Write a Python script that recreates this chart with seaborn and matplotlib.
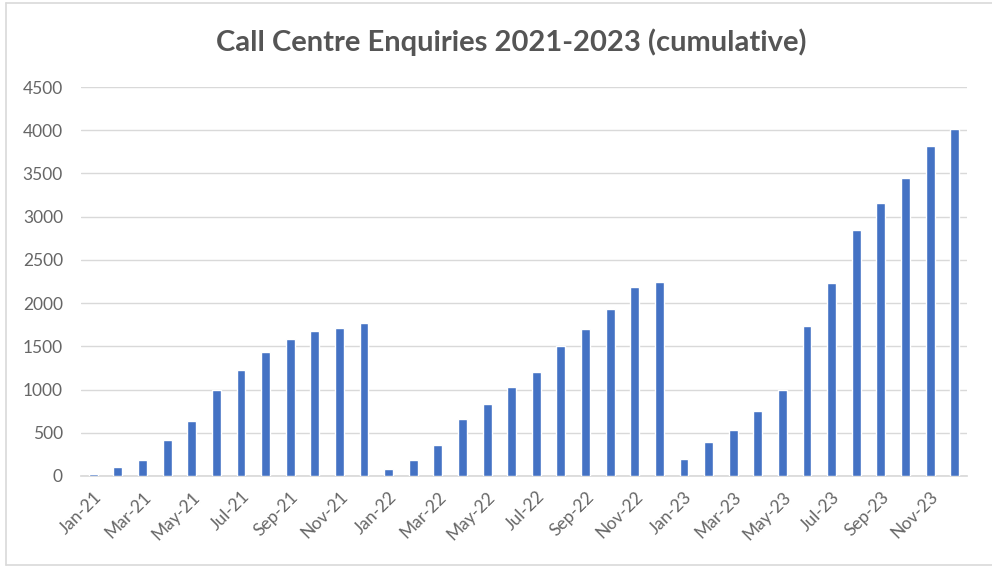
import matplotlib
matplotlib.use("Agg")
import matplotlib.pyplot as plt
import seaborn as sns
import pandas as pd
from matplotlib.lines import Line2D

months = ["Jan-21", "Feb-21", "Mar-21", "Apr-21", "May-21", "Jun-21",
          "Jul-21", "Aug-21", "Sep-21", "Oct-21", "Nov-21", "Dec-21",
          "Jan-22", "Feb-22", "Mar-22", "Apr-22", "May-22", "Jun-22",
          "Jul-22", "Aug-22", "Sep-22", "Oct-22", "Nov-22", "Dec-22",
          "Jan-23", "Feb-23", "Mar-23", "Apr-23", "May-23", "Jun-23",
          "Jul-23", "Aug-23", "Sep-23", "Oct-23", "Nov-23", "Dec-23"]
enquiries = [25, 100, 185, 415, 635, 990, 1225, 1440, 1580, 1680, 1715, 1770,
             85, 185, 360, 655, 830, 1025, 1200, 1500, 1695, 1930, 2190, 2250,
             200, 395, 530, 750, 990, 1740, 2230, 2840, 3155, 3450, 3820, 4010]
title = "Call Centre Enquiries 2021-2023 (cumulative)"

df = pd.DataFrame({"month": months, "enquiries": enquiries})

sns.set_theme(style="white")
plt.rcParams["font.family"] = ["Lato", "DejaVu Sans"]

W, H = 992, 567
fig = plt.figure(figsize=(W / 100, H / 100), dpi=100)
ax = fig.add_axes([81 / W, 1 - 476 / H, (967 - 81) / W, (476 - 87) / H])

sns.barplot(data=df, x="month", y="enquiries", color="#4472C4", width=0.36,
            saturation=1, ax=ax, zorder=3)

ax.set_xlim(-0.5, len(months) - 0.5)
ax.set_ylim(0, 4500)
ax.set_yticks(range(0, 4501, 500))
ax.grid(axis="y", color="#d9d9d9", linewidth=1, zorder=0)
ax.grid(axis="x", visible=False)

text_col = "#666666"
ax.tick_params(axis="y", length=0, labelsize=12.5, labelcolor=text_col, pad=13)
major = list(range(0, len(months), 2))
ax.set_xticks(major)
ax.set_xticklabels([months[i] for i in major], rotation=45, ha="right",
                   rotation_mode="anchor", fontsize=12.5, color=text_col)
ax.tick_params(axis="x", which="major", length=0, pad=9)
ax.set_xticks([i - 0.5 for i in range(0, len(months) + 1, 2)], minor=True)
ax.tick_params(axis="x", which="minor", length=5, color="#d9d9d9", width=1)

for s in ["top", "right", "left"]:
    ax.spines[s].set_visible(False)
ax.spines["bottom"].set_color("#d9d9d9")
ax.set_xlabel("")
ax.set_ylabel("")

fig.text(511 / W, 1 - 42 / H, title, ha="center", va="center",
         fontsize=21, fontweight="bold", color="#555555")

# chart-area border
bc = "#d9d9d9"
fig.add_artist(Line2D([6 / W, 6 / W], [1 - 3 / H, 1 - 565 / H], color=bc, lw=1.2))
fig.add_artist(Line2D([6 / W, 1], [1 - 3 / H, 1 - 3 / H], color=bc, lw=1.2))
fig.add_artist(Line2D([6 / W, 1], [1 - 565 / H, 1 - 565 / H], color=bc, lw=1.2))

fig.savefig("out.png", dpi=100)
